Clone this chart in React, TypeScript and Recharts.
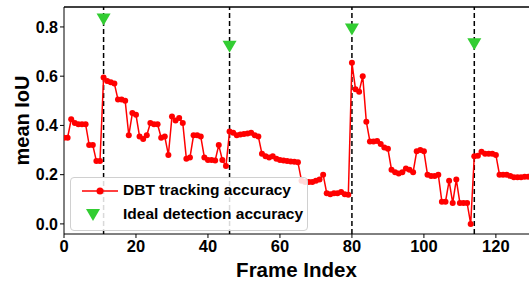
import React from 'react'
import {
  ComposedChart, Line, Scatter, XAxis, YAxis, ReferenceLine, Label,
} from 'recharts'

// mean IoU per frame (DBT tracking accuracy)
const iouValues = [
  0.35, 0.35, 0.425, 0.41, 0.405, 0.405, 0.405, 0.32, 0.32, 0.255,
  0.255, 0.595, 0.58, 0.575, 0.57, 0.505, 0.505, 0.5, 0.36, 0.45,
  0.443, 0.355, 0.345, 0.36, 0.41, 0.405, 0.405, 0.35, 0.355, 0.28,
  0.436, 0.42, 0.43, 0.41, 0.265, 0.27, 0.36, 0.36, 0.355, 0.27,
  0.26, 0.26, 0.258, 0.32, 0.26, 0.235, 0.375, 0.37, 0.36, 0.363,
  0.365, 0.367, 0.37, 0.36, 0.355, 0.285, 0.275, 0.27, 0.275, 0.265,
  0.26, 0.258, 0.255, 0.253, 0.252, 0.25, 0.175, 0.17, 0.17, 0.17,
  0.175, 0.18, 0.2, 0.125, 0.12, 0.125, 0.125, 0.13, 0.12, 0.118,
  0.655, 0.547, 0.537, 0.6, 0.415, 0.335, 0.335, 0.337, 0.325, 0.31,
  0.305, 0.22, 0.21, 0.205, 0.21, 0.225, 0.22, 0.21, 0.295, 0.3,
  0.295, 0.2, 0.195, 0.195, 0.2, 0.09, 0.09, 0.175, 0.085, 0.18,
  0.085, 0.085, 0.085, 0.0, 0.275, 0.277, 0.293, 0.285, 0.285, 0.285,
  0.28, 0.2, 0.2, 0.2, 0.195, 0.19, 0.19, 0.19, 0.192, 0.192,
]

// ideal detection frames and their accuracy markers
const detectFrames = [11, 46, 80, 114]
const detectValues = [0.83, 0.72, 0.79, 0.73]

const xTicks = [0, 20, 40, 60, 80, 100, 120]
const yTicks = [0, 0.2, 0.4, 0.6, 0.8]

const X_MAX = 129.2
const Y_MIN = -0.041
const Y_MAX = 0.881

const FONT = '"Liberation Sans", Arial, sans-serif'

const trackData = iouValues.map((v, i) => ({ x: i, y: v }))
const detectData = detectFrames.map((f, i) => ({ x: f, y: detectValues[i] }))

const TriangleDown = (props: any) => {
  const { cx, cy } = props
  if (cx == null || cy == null) return null
  const w = 7, h = 12
  return (
    <path
      d={`M${cx - w},${cy - h / 2} L${cx + w},${cy - h / 2} L${cx},${cy + h / 2} Z`}
      fill="#32cd32"
    />
  )
}

// legend drawn as an overlay so it does not take space from the plot
const LegendBox = () => (
  <div
    style={{
      position: 'absolute', left: 70, top: 177,
      width: 238, height: 54, boxSizing: 'border-box',
      border: '1px solid #d0d0d0', borderRadius: 4, background: 'rgba(255,255,255,0.85)',
      fontFamily: FONT, fontWeight: 'bold', fontSize: 15.5, color: '#000',
    }}
  >
    <svg width={50} height={52} style={{ position: 'absolute', left: 0, top: 0 }}>
      <line x1={11} x2={47} y1={13} y2={13} stroke="red" strokeWidth={1.5} />
      <circle cx={29} cy={13} r={3.5} fill="red" />
      <path d="M15,31 L29,31 L22,43 Z" fill="#32cd32" />
    </svg>
    <div style={{ position: 'absolute', left: 52, top: 3, whiteSpace: 'nowrap' }}>DBT tracking accuracy</div>
    <div style={{ position: 'absolute', left: 52, top: 27, whiteSpace: 'nowrap' }}>Ideal detection accuracy</div>
  </div>
)

export default function App() {
  return (
    <div style={{ position: 'absolute', left: 0, top: 0, width: 529, height: 281, overflow: 'hidden', background: '#fff' }}>
      <ComposedChart width={529} height={281} margin={{ top: 7, right: 0, bottom: 0, left: 0 }}>
        <XAxis
          type="number"
          dataKey="x"
          domain={[0, X_MAX]}
          ticks={xTicks}
          allowDataOverflow
          height={47}
          stroke="#000"
          tickSize={4}
          tick={{ fill: '#000', fontSize: 16.5, fontWeight: 'bold', fontFamily: FONT }}
        >
          <Label value="Frame Index" position="insideBottom" offset={4}
            style={{ fill: '#000', fontSize: 20.5, fontWeight: 'bold', fontFamily: FONT }} />
        </XAxis>
        <YAxis
          type="number"
          dataKey="y"
          domain={[Y_MIN, Y_MAX]}
          ticks={yTicks}
          allowDataOverflow
          width={64}
          stroke="#000"
          tickSize={4}
          tickFormatter={(v: number) => v.toFixed(1)}
          tick={{ fill: '#000', fontSize: 16, fontWeight: 'bold', fontFamily: FONT }}
        >
          <Label value="mean IoU" angle={-90} position="insideLeft" offset={22}
            style={{ textAnchor: 'middle', fill: '#000', fontSize: 20, fontWeight: 'bold', fontFamily: FONT }} />
        </YAxis>
        <ReferenceLine y={Y_MAX} stroke="#000" strokeWidth={1.5} />
        {detectFrames.map((f) => (
          <ReferenceLine key={f} x={f} stroke="#000" strokeWidth={1.5} strokeDasharray="5 3" />
        ))}
        <Line
          data={trackData}
          dataKey="y"
          stroke="red"
          strokeWidth={1.5}
          dot={{ r: 3, fill: 'red', stroke: 'red', strokeWidth: 0 }}
          isAnimationActive={false}
        />
        <Scatter
          data={detectData}
          dataKey="y"
          shape={<TriangleDown />}
          isAnimationActive={false}
        />
      </ComposedChart>
      <LegendBox />
    </div>
  )
}
